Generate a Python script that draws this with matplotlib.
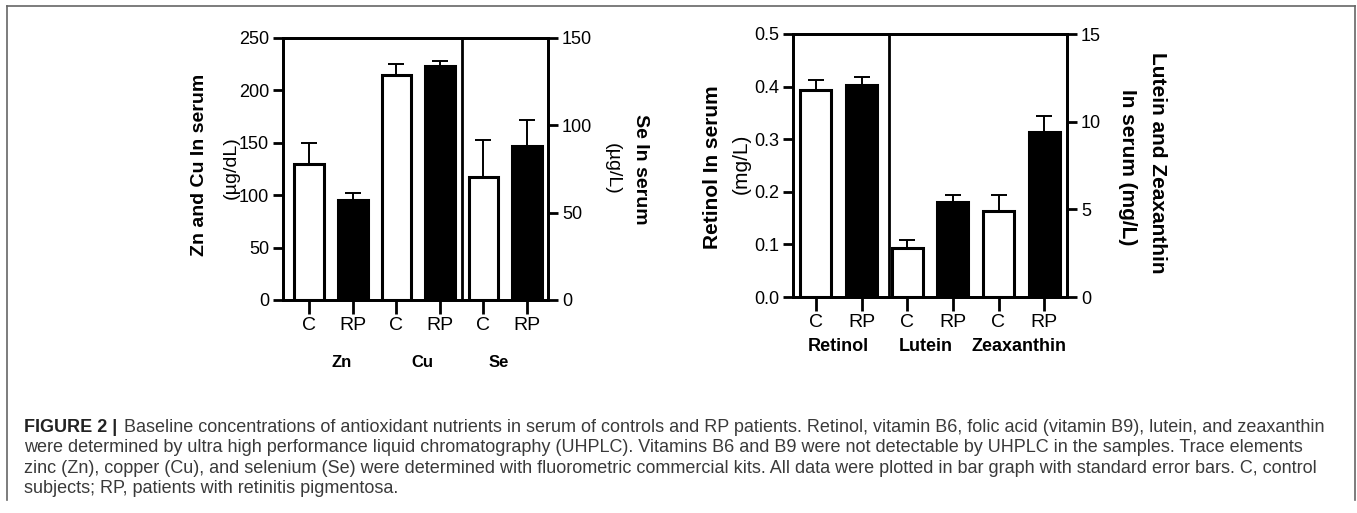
import matplotlib
matplotlib.use("Agg")
import matplotlib.pyplot as plt
from matplotlib.lines import Line2D

W, H = 1357, 513
plt.rcParams["font.family"] = ["Liberation Sans", "DejaVu Sans"]

# ---------- Data ----------
pair_labels = ["C", "RP", "C", "RP", "C", "RP"]
bar_fills = ["white", "black", "white", "black", "white", "black"]

trace_groups = ["Zn", "Cu", "Se"]
zn_cu_means = [130, 95, 215, 223]        # µg/dL (left axis)
zn_cu_err = [20, 7, 10, 5]
se_means = [70.5, 88]                    # µg/L (right axis)
se_err = [21, 15]

carot_groups = ["Retinol", "Lutein", "Zeaxanthin"]
retinol_means = [0.393, 0.403]           # mg/L (left axis)
retinol_err = [0.019, 0.016]
lut_zea_means = [2.82, 5.43, 4.89, 9.42]  # mg/L (right axis)
lut_zea_err = [0.42, 0.38, 0.92, 0.92]

caption_lines = [
    "Baseline concentrations of antioxidant nutrients in serum of controls and RP patients. "
    "Retinol, vitamin B6, folic acid (vitamin B9), lutein, and zeaxanthin",
    "were determined by ultra high performance liquid chromatography (UHPLC). Vitamins B6 and B9 "
    "were not detectable by UHPLC in the samples. Trace elements",
    "zinc (Zn), copper (Cu), and selenium (Se) were determined with fluorometric commercial kits. "
    "All data were plotted in bar graph with standard error bars. C, control",
    "subjects; RP, patients with retinitis pigmentosa.",
]


def px_box(x0, y0, x1, y1):
    return [x0 / W, 1 - y1 / H, (x1 - x0) / W, (y1 - y0) / H]


def fx(x):
    return x / W


def fy(y):
    return 1 - y / H


def draw_bars(ax, xs, means, errs, fills):
    ax.errorbar(xs, means, yerr=[[0] * len(errs), errs], fmt="none",
                ecolor="black", elinewidth=1.4, capsize=5.5, capthick=1.4, zorder=2)
    ax.bar(xs, means, width=0.68, color=fills, edgecolor="black",
           linewidth=2.2, zorder=3)


def style_axes(ax):
    for s in ax.spines.values():
        s.set_linewidth(2)
    ax.tick_params(axis="y", direction="out", length=7, width=2,
                   labelsize=13, pad=3)
    ax.tick_params(axis="x", direction="out", length=10, width=2,
                   labelsize=14, pad=2)


fig = plt.figure(figsize=(W / 100, H / 100), dpi=100)

# ---------- Left panel: trace elements ----------
ax = fig.add_axes(px_box(283, 38, 548, 300))
ax2 = ax.twinx()
xs = list(range(len(pair_labels)))
draw_bars(ax, xs[:4], zn_cu_means, zn_cu_err, bar_fills[:4])
draw_bars(ax2, xs[4:], se_means, se_err, bar_fills[4:])
ax.set_xlim(-0.6, 5.48)
ax.set_ylim(0, 250)
ax.set_yticks([0, 50, 100, 150, 200, 250])
ax2.set_ylim(0, 150)
ax2.set_yticks([0, 50, 100, 150])
ax.set_xticks(xs)
ax.set_xticklabels(pair_labels)
ax.axvline(3.5, color="black", linewidth=2, zorder=4)
style_axes(ax)
style_axes(ax2)
for gx, g in zip([0.75, 2.6, 4.35], trace_groups):
    ax.text(gx, -0.237, g, transform=ax.get_xaxis_transform(), ha="center",
            va="center", fontsize=12, fontweight="bold")

fig.text(fx(200), fy(165), "Zn and Cu In serum", rotation=90, ha="center",
         va="center", fontsize=14, fontweight="bold")
fig.text(fx(231), fy(168), "(µg/dL)", rotation=90, ha="center",
         va="center", fontsize=14)
fig.text(fx(640), fy(169), "Se In serum", rotation=270, ha="center",
         va="center", fontsize=14, fontweight="bold")
fig.text(fx(612), fy(169), "(µg/L)", rotation=270, ha="center",
         va="center", fontsize=14)

# ---------- Right panel: retinol and carotenoids ----------
bx = fig.add_axes(px_box(793, 34, 1067, 297))
bx2 = bx.twinx()
draw_bars(bx, xs[:2], retinol_means, retinol_err, bar_fills[:2])
draw_bars(bx2, xs[2:], lut_zea_means, lut_zea_err, bar_fills[2:])
bx.set_xlim(-0.5, 5.5)
bx.set_ylim(0, 0.5)
bx.set_yticks([0.0, 0.1, 0.2, 0.3, 0.4, 0.5])
bx.set_yticklabels([f"{v:.1f}" for v in [0.0, 0.1, 0.2, 0.3, 0.4, 0.5]])
bx2.set_ylim(0, 15)
bx2.set_yticks([0, 5, 10, 15])
bx.set_xticks(xs)
bx.set_xticklabels(pair_labels)
bx.axvline(1.6, color="black", linewidth=2, zorder=4)
style_axes(bx)
style_axes(bx2)
for gx, g in zip([0.5, 2.4, 4.45], carot_groups):
    bx.text(gx, -0.19, g, transform=bx.get_xaxis_transform(), ha="center",
            va="center", fontsize=13, fontweight="bold")

fig.text(fx(712), fy(167), "Retinol In serum", rotation=90, ha="center",
         va="center", fontsize=15, fontweight="bold")
fig.text(fx(741), fy(164), "(mg/L)", rotation=90, ha="center",
         va="center", fontsize=15)
fig.text(fx(1157), fy(163), "Lutein and Zeaxanthin", rotation=270, ha="center",
         va="center", fontsize=15, fontweight="bold")
fig.text(fx(1128), fy(167), "In serum (mg/L)", rotation=270, ha="center",
         va="center", fontsize=15, fontweight="bold")

# ---------- Caption box ----------
frame_kw = dict(color="#666666", linewidth=1.2, transform=fig.transFigure)
fig.add_artist(Line2D([fx(7), fx(7)], [fy(6), fy(500)], **frame_kw))
fig.add_artist(Line2D([fx(7), fx(1355)], [fy(6), fy(6)], **frame_kw))
fig.add_artist(Line2D([fx(1355), fx(1355)], [fy(6), fy(500)], **frame_kw))

fig.text(fx(24), fy(428), "FIGURE 2 |", ha="left", va="center",
         fontsize=13, fontweight="bold", color="#222222")
fig.text(fx(124), fy(428), caption_lines[0], ha="left", va="center",
         fontsize=13, color="#3a3a3a")
for i, line in enumerate(caption_lines[1:]):
    fig.text(fx(24), fy(448 + 20.3 * i), line, ha="left", va="center",
             fontsize=13, color="#3a3a3a")

fig.savefig("out.png", dpi=100)
